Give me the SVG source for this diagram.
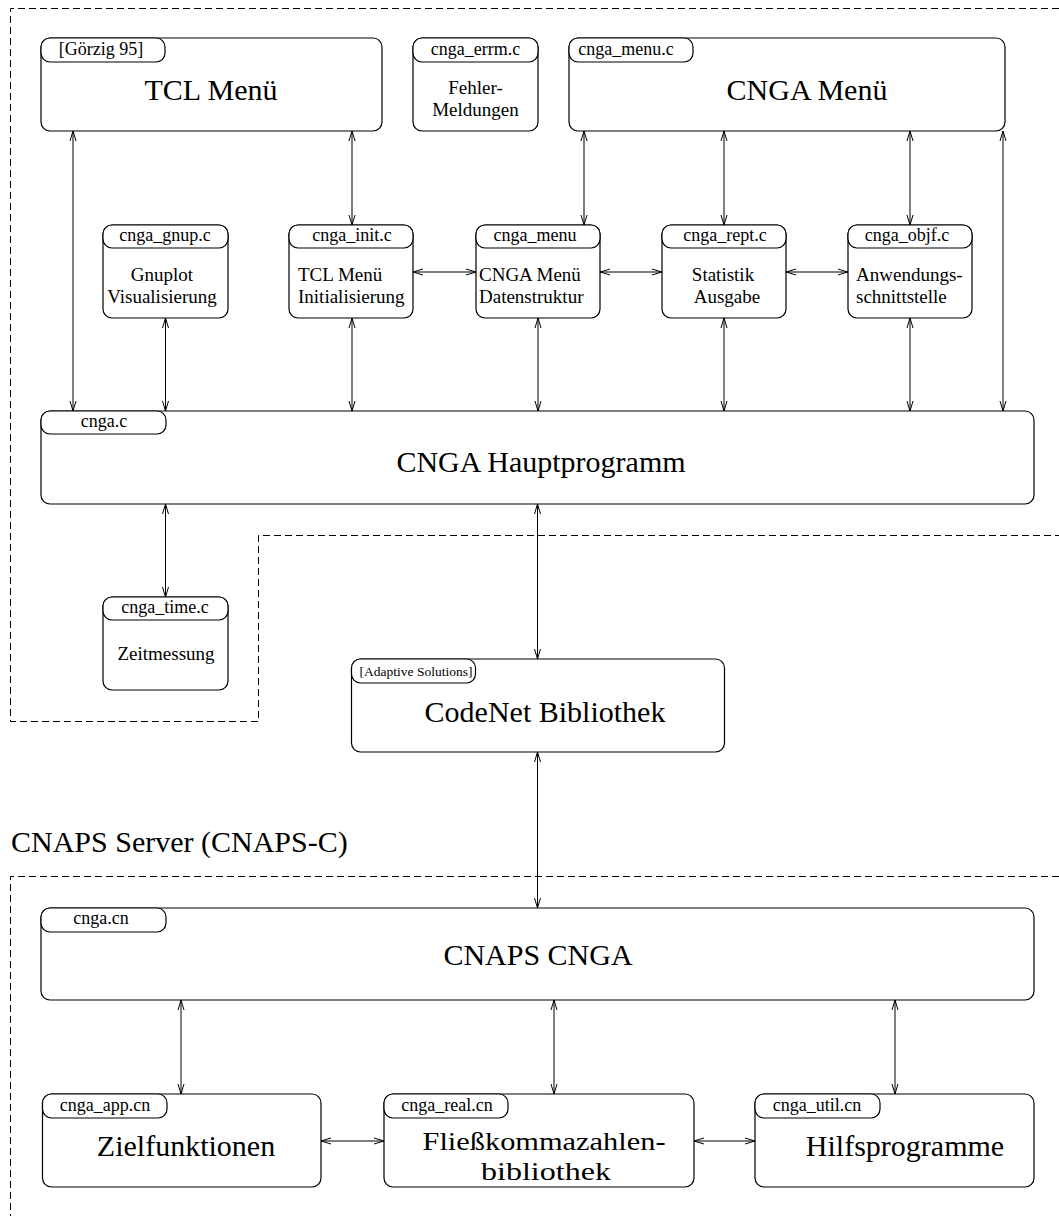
<svg xmlns="http://www.w3.org/2000/svg" width="1059" height="1216" viewBox="0 0 1059 1216" font-family="'Liberation Serif', Times, serif">
<style>
  .box { fill: #fff; stroke: #000; stroke-width: 1.2; }
  .dash { fill: none; stroke: #000; stroke-width: 1; stroke-dasharray: 7 4; }
  .conn line { stroke: #000; stroke-width: 1; marker-start: url(#ah); marker-end: url(#ah); }
  text { font-family: 'Liberation Serif', Times, serif; fill: #000; }
  .t30 { font-size: 30px; text-anchor: middle; }
  .t26 { font-size: 26px; text-anchor: middle; }
  .t19 { font-size: 19px; text-anchor: middle; }
  .t19s { font-size: 19px; text-anchor: start; }
  .t18 { font-size: 18px; text-anchor: middle; }
  .t13 { font-size: 13.5px; text-anchor: middle; }
</style>
<defs>
  <marker id="ah" viewBox="0 0 12 8" refX="11" refY="4" markerWidth="12" markerHeight="8" markerUnits="userSpaceOnUse" orient="auto-start-reverse">
    <path d="M1,1 L11,4 L1,7" fill="none" stroke="#000" stroke-width="1"/>
  </marker>
</defs>
<rect width="1059" height="1216" fill="#fff"/>

<g id="regions">
  <path class="dash" d="M1059,8.5 H10.5 V721.5 H258.5 V535.5 H1059"/>
  <path class="dash" d="M1059,876.5 H10.5 V1216"/>
  <text x="11" y="852" style="font-size:30px">CNAPS Server (CNAPS-C)</text>
</g>

<g id="connectors" class="conn">
  <line x1="73" y1="131" x2="73" y2="411"/>
  <line x1="352" y1="131" x2="352" y2="225"/>
  <line x1="584" y1="131" x2="584" y2="225"/>
  <line x1="724" y1="131" x2="724" y2="225"/>
  <line x1="910" y1="131" x2="910" y2="225"/>
  <line x1="1003" y1="131" x2="1003" y2="411"/>
  <line x1="165.5" y1="318" x2="165.5" y2="411"/>
  <line x1="352" y1="318" x2="352" y2="411"/>
  <line x1="538" y1="318" x2="538" y2="411"/>
  <line x1="724" y1="318" x2="724" y2="411"/>
  <line x1="910" y1="318" x2="910" y2="411"/>
  <line x1="165.5" y1="504" x2="165.5" y2="597"/>
  <line x1="537.5" y1="504" x2="537.5" y2="659"/>
  <line x1="537.5" y1="752" x2="537.5" y2="908"/>
  <line x1="181" y1="1000" x2="181" y2="1094"/>
  <line x1="554" y1="1000" x2="554" y2="1094"/>
  <line x1="895" y1="1000" x2="895" y2="1094"/>
  <line x1="413" y1="272" x2="476" y2="272"/>
  <line x1="600" y1="272" x2="662" y2="272"/>
  <line x1="786" y1="272" x2="848" y2="272"/>
  <line x1="321" y1="1141" x2="384" y2="1141"/>
  <line x1="694" y1="1141" x2="755" y2="1141"/>
</g>

<g id="tcl_menu">
  <rect class="box" x="41" y="38" width="341" height="93" rx="9"/>
  <rect class="box" x="41" y="38" width="124" height="24" rx="9"/>
  <text class="t18" x="101" y="55">[Görzig 95]</text>
  <text class="t30" x="211" y="100">TCL Menü</text>
</g>

<g id="cnga_errm">
  <rect class="box" x="413" y="38" width="125" height="93" rx="9"/>
  <rect class="box" x="413" y="38" width="125" height="24" rx="9"/>
  <text class="t18" x="475.5" y="55">cnga_errm.c</text>
  <text class="t19" x="475.5" y="94">Fehler-</text>
  <text class="t19" x="475.5" y="116">Meldungen</text>
</g>

<g id="cnga_menu_c">
  <rect class="box" x="569" y="38" width="436" height="93" rx="9"/>
  <rect class="box" x="569" y="38" width="124" height="24" rx="9"/>
  <text class="t18" x="626" y="55">cnga_menu.c</text>
  <text class="t30" x="807" y="100">CNGA Menü</text>
</g>

<g id="cnga_gnup">
  <rect class="box" x="103" y="225" width="125" height="93" rx="9"/>
  <rect class="box" x="103" y="225" width="125" height="23" rx="9"/>
  <text class="t18" x="165" y="241">cnga_gnup.c</text>
  <text class="t19" x="162" y="281">Gnuplot</text>
  <text class="t19" x="162" y="303">Visualisierung</text>
</g>

<g id="cnga_init">
  <rect class="box" x="289" y="225" width="124" height="93" rx="9"/>
  <rect class="box" x="289" y="225" width="124" height="23" rx="9"/>
  <text class="t18" x="352" y="241">cnga_init.c</text>
  <text class="t19s" x="298" y="281">TCL Menü</text>
  <text class="t19s" x="298" y="303">Initialisierung</text>
</g>

<g id="cnga_menu">
  <rect class="box" x="476" y="225" width="124" height="93" rx="9"/>
  <rect class="box" x="476" y="225" width="124" height="23" rx="9"/>
  <text class="t18" x="535" y="241">cnga_menu</text>
  <text class="t19s" x="479" y="281">CNGA Menü</text>
  <text class="t19s" x="479" y="303">Datenstruktur</text>
</g>

<g id="cnga_rept">
  <rect class="box" x="662" y="225" width="124" height="93" rx="9"/>
  <rect class="box" x="662" y="225" width="124" height="23" rx="9"/>
  <text class="t18" x="725" y="241">cnga_rept.c</text>
  <text class="t19" x="723" y="281">Statistik</text>
  <text class="t19" x="727" y="303">Ausgabe</text>
</g>

<g id="cnga_objf">
  <rect class="box" x="848" y="225" width="124" height="93" rx="9"/>
  <rect class="box" x="848" y="225" width="124" height="23" rx="9"/>
  <text class="t18" x="907" y="241">cnga_objf.c</text>
  <text class="t19s" x="856" y="281">Anwendungs-</text>
  <text class="t19s" x="856" y="303">schnittstelle</text>
</g>

<g id="cnga_c">
  <rect class="box" x="41" y="411" width="993" height="93" rx="9"/>
  <rect class="box" x="41" y="411" width="125" height="23" rx="9"/>
  <text class="t18" x="104" y="427">cnga.c</text>
  <text class="t30" x="541" y="472">CNGA Hauptprogramm</text>
</g>

<g id="cnga_time">
  <rect class="box" x="103" y="597" width="125" height="93" rx="9"/>
  <rect class="box" x="103" y="597" width="125" height="23" rx="9"/>
  <text class="t18" x="165" y="613">cnga_time.c</text>
  <text class="t19" x="166" y="660">Zeitmessung</text>
</g>

<g id="codenet">
  <rect class="box" x="351.5" y="659" width="373" height="93" rx="9"/>
  <rect class="box" x="351.5" y="659" width="124" height="24" rx="9"/>
  <text class="t13" x="416" y="676">[Adaptive Solutions]</text>
  <text class="t30" x="545" y="722">CodeNet Bibliothek</text>
</g>

<g id="cnaps_cnga">
  <rect class="box" x="41" y="908" width="993" height="92" rx="9"/>
  <rect class="box" x="41" y="908" width="125" height="24" rx="9"/>
  <text class="t18" x="101" y="924">cnga.cn</text>
  <text class="t30" x="538" y="965">CNAPS CNGA</text>
</g>

<g id="cnga_app">
  <rect class="box" x="42.5" y="1094" width="278.5" height="93" rx="9"/>
  <rect class="box" x="42.5" y="1094" width="124.5" height="24" rx="9"/>
  <text class="t18" x="105" y="1111">cnga_app.cn</text>
  <text class="t30" x="186" y="1156">Zielfunktionen</text>
</g>

<g id="cnga_real">
  <rect class="box" x="384" y="1094" width="310" height="93" rx="9"/>
  <rect class="box" x="384" y="1094" width="124" height="24" rx="9"/>
  <text class="t18" x="447" y="1111">cnga_real.cn</text>
  <text class="t26" x="544" y="1150" textLength="243" lengthAdjust="spacingAndGlyphs">Fließkommazahlen-</text>
  <text class="t26" x="546" y="1180" textLength="130" lengthAdjust="spacingAndGlyphs">bibliothek</text>
</g>

<g id="cnga_util">
  <rect class="box" x="755" y="1094" width="279" height="93" rx="9"/>
  <rect class="box" x="755" y="1094" width="125" height="24" rx="9"/>
  <text class="t18" x="817" y="1111">cnga_util.cn</text>
  <text class="t30" x="905" y="1156">Hilfsprogramme</text>
</g>
</svg>
